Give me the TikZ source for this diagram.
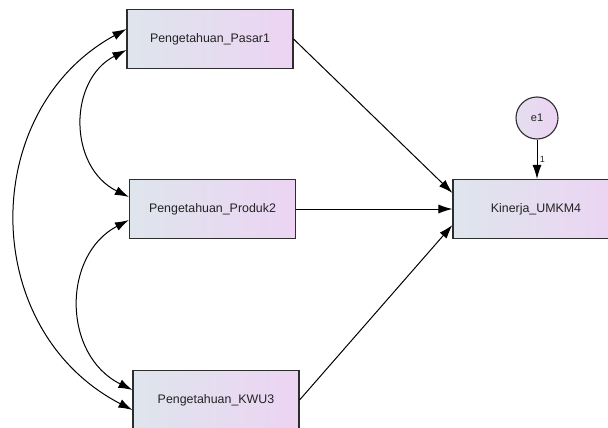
\documentclass[tikz,border=0pt]{standalone}
\usepackage{fontspec}
\setmainfont{Liberation Sans}
\usetikzlibrary{arrows.meta,calc}
\definecolor{boxL}{RGB}{222,229,237}
\definecolor{boxR}{RGB}{236,212,243}
\definecolor{edge}{RGB}{45,45,45}
\definecolor{txt}{RGB}{35,35,35}
\begin{document}
\begin{tikzpicture}[x=1pt,y=-1pt,
  obs/.style={draw=edge,line width=1.1pt,rectangle,minimum width=166pt,minimum height=59pt,inner sep=0pt,
    left color=boxL,right color=boxR,text=txt,font=\fontsize{12.4}{14}\selectfont},
  err/.style={draw=edge,line width=1.1pt,circle,minimum size=42pt,inner sep=0pt,
    left color=boxL!60!boxR,right color=boxR,text=txt,font=\fontsize{11}{13}\selectfont},
  path/.style={draw=black,line width=1pt,-{Latex[length=14pt,width=9pt]}},
  cov/.style={draw=black,line width=1pt,{Latex[length=14pt,width=9pt]}-{Latex[length=14pt,width=9pt]}}]
\useasboundingbox (0,0) rectangle (608,428);
\node[obs] (b1) at (210,39) {Pengetahuan\_Pasar1};
\node[obs] (b2) at (212.5,209) {Pengetahuan\_Produk2};
\node[obs] (b3) at (216,400) {Pengetahuan\_KWU3};
\node[obs] (k) at (536,209) {Kinerja\_UMKM4};
\node[err] (e) at (537,118) {e1};
\draw[path] (b1.east) -- ($(k.west)+(0,-16)$);
\draw[path] (b2.east) -- (k.west);
\draw[path] (b3.east) -- ($(k.west)+(0,16)$);
\draw[path] (e.south) -- node[right,font=\fontsize{9}{10}\selectfont,text=txt,xshift=-1pt] {1} (e.south |- k.north);
\draw[cov] ($(b1.west)+(0,-10)$) .. controls (-22,110) and (-22,330) .. ($(b3.west)+(0,10)$);
\draw[cov] ($(b1.west)+(0,11)$) .. controls (68,80) and (68,167) .. ($(b2.west)+(0,-12)$);
\draw[cov] ($(b2.west)+(0,11)$) .. controls (62,255) and (62,355) .. ($(b3.west)+(0,-10)$);
\end{tikzpicture}
\end{document}
